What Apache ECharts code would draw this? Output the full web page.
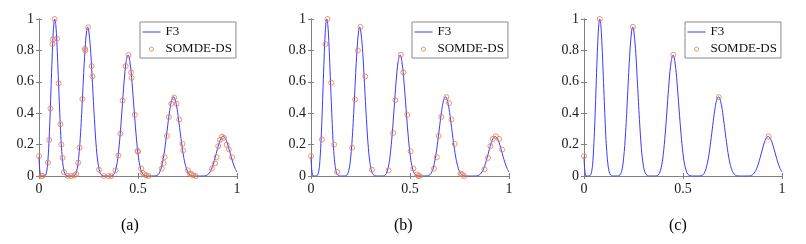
<!DOCTYPE html>
<html>
<head>
<meta charset="utf-8">
<script src="https://cdn.jsdelivr.net/npm/echarts@6/dist/echarts.min.js"></script>
<style>
html,body{margin:0;padding:0;background:#fff;}
#chart{width:806px;height:244px;}
</style>
</head>
<body>
<div id="chart"></div>
<script>
// F3 curve sample points
var curveX = [0,0.01,0.02,0.03,0.04,0.045,0.05,0.055,0.06,0.065,0.07,0.075,0.0797,0.085,0.09,0.095,0.1,0.105,0.11,0.115,0.12,0.125,0.13,0.14,0.15,0.16,0.17,0.18,0.19,0.2,0.21,0.22,0.23,0.24,0.2466,0.25,0.26,0.27,0.28,0.29,0.3,0.31,0.32,0.33,0.34,0.35,0.36,0.37,0.38,0.39,0.4,0.41,0.42,0.43,0.44,0.45,0.46,0.47,0.48,0.49,0.5,0.51,0.52,0.53,0.54,0.55,0.56,0.57,0.58,0.59,0.6,0.61,0.62,0.63,0.64,0.65,0.66,0.67,0.68,0.69,0.7,0.71,0.72,0.73,0.74,0.75,0.76,0.77,0.78,0.79,0.8,0.81,0.82,0.83,0.84,0.85,0.86,0.87,0.88,0.89,0.9,0.91,0.92,0.93,0.94,0.95,0.96,0.97,0.98,0.99,1];
var curveY = [0.1235,0.0005,0,0.0015,0.0382,0.0998,0.2047,0.3521,0.5285,0.7098,0.8648,0.9675,1,0.96,0.8583,0.7142,0.5526,0.3985,0.2598,0.1567,0.0836,0.0402,0.0161,0.0012,0,0,0.0001,0.0042,0.03,0.1115,0.2755,0.5095,0.7529,0.9172,0.9486,0.9378,0.8113,0.5906,0.3605,0.1745,0.0657,0.0171,0.0026,0.0001,0,0,0.0001,0.0023,0.0147,0.053,0.1344,0.266,0.4344,0.6033,0.7283,0.7706,0.7197,0.5936,0.4284,0.2688,0.1418,0.0618,0.0207,0.0048,0.0006,0,0,0,0.0001,0.0013,0.0072,0.025,0.0636,0.1285,0.2182,0.3207,0.4162,0.4826,0.5039,0.4751,0.4042,0.3101,0.2117,0.1272,0.0665,0.0287,0.0101,0.0024,0.0004,0,0,0,0,0.0003,0.0018,0.0069,0.019,0.041,0.0751,0.1189,0.1665,0.2104,0.2405,0.2517,0.2412,0.2123,0.1706,0.1255,0.0833,0.0485,0.025];

// SOMDE-DS points, panel (a)
var aX = [0,0.012,0.018,0.045,0.052,0.058,0.068,0.07,0.079,0.091,0.099,0.108,0.113,0.119,0.126,0.145,0.162,0.178,0.188,0.198,0.205,0.219,0.232,0.234,0.248,0.266,0.27,0.303,0.327,0.351,0.365,0.386,0.401,0.411,0.422,0.438,0.452,0.465,0.468,0.484,0.498,0.5,0.516,0.524,0.533,0.543,0.553,0.62,0.629,0.634,0.646,0.656,0.668,0.683,0.695,0.708,0.725,0.728,0.752,0.762,0.771,0.779,0.791,0.873,0.889,0.897,0.905,0.914,0.924,0.934,0.948,0.959,0.975];
var aY = [0.126,0,0,0.085,0.23,0.43,0.84,0.87,1,0.875,0.59,0.33,0.2,0.115,0.025,0,0,0.003,0.013,0.085,0.18,0.49,0.81,0.8,0.947,0.7,0.634,0.04,0,0,0,0.036,0.13,0.27,0.48,0.7,0.77,0.66,0.625,0.39,0.16,0.155,0.047,0.02,0.01,0.004,0,0.047,0.083,0.12,0.255,0.376,0.46,0.5,0.46,0.36,0.205,0.163,0.036,0.015,0.01,0.004,0,0.047,0.08,0.12,0.19,0.23,0.25,0.243,0.2,0.17,0.12];
// panel (b)
var bX = [0,0.055,0.073,0.083,0.102,0.117,0.132,0.208,0.223,0.237,0.25,0.274,0.308,0.392,0.415,0.426,0.454,0.466,0.486,0.503,0.517,0.535,0.542,0.549,0.621,0.635,0.645,0.658,0.684,0.697,0.709,0.726,0.756,0.764,0.774,0.876,0.894,0.906,0.918,0.933,0.95,0.965];
var bY = [0.126,0.232,0.84,1,0.594,0.2,0.026,0.18,0.487,0.8,0.95,0.634,0.04,0.036,0.274,0.483,0.772,0.66,0.39,0.157,0.047,0.01,0,0,0.047,0.12,0.255,0.376,0.502,0.464,0.36,0.204,0.015,0.01,0,0.043,0.115,0.19,0.236,0.253,0.236,0.168];
// panel (c)
var cX = [0,0.08,0.247,0.451,0.681,0.933];
var cY = [0.126,1,0.95,0.772,0.502,0.252];

var xTicks = [0, 0.5, 1];
var yTicks = [0, 0.2, 0.4, 0.6, 0.8, 1];
var captions = ['(a)', '(b)', '(c)'];
var seriesNames = ['F3', 'SOMDE-DS'];

function pairs(xs, ys) { return xs.map(function (x, i) { return [x, ys[i]]; }); }
var pointSets = [pairs(aX, aY), pairs(bX, bY), pairs(cX, cY)];
var curve = pairs(curveX, curveY);

var FONT = 'Liberation Serif';
var AXC = '#808080';
var LINEC = '#3a3aff';
var MARKC = '#ea7a45';
var gridLefts = [39, 311, 584];
var GW = 198, GT = 19, GH = 157;
var captionX = [132, 405, 680];

var grids = [], xAxes = [], yAxes = [], series = [], legends = [], graphics = [];
gridLefts.forEach(function (L, i) {
  grids.push({ left: L, top: GT, width: GW, height: GH, containLabel: false });
  var common = {
    type: 'value', gridIndex: i, min: 0, max: 1,
    splitLine: { show: false },
    axisLine: { show: true, lineStyle: { color: AXC, width: 1 } },
    axisTick: { show: true, inside: true, length: 3, lineStyle: { color: AXC } }
  };
  xAxes.push(Object.assign({}, common, {
    position: 'bottom', interval: xTicks[1] - xTicks[0],
    axisLabel: { show: true, margin: 6, color: '#1a1a1a', fontSize: 14, fontFamily: FONT }
  }));
  xAxes.push(Object.assign({}, common, {
    position: 'top', interval: xTicks[1] - xTicks[0], axisLabel: { show: false }
  }));
  yAxes.push(Object.assign({}, common, {
    position: 'left', interval: yTicks[1] - yTicks[0],
    axisLabel: { show: true, margin: 5, color: '#1a1a1a', fontSize: 14, fontFamily: FONT }
  }));
  yAxes.push(Object.assign({}, common, {
    position: 'right', interval: yTicks[1] - yTicks[0], axisLabel: { show: false }
  }));
  series.push({
    name: seriesNames[0], type: 'line', xAxisIndex: 2 * i, yAxisIndex: 2 * i,
    data: curve, showSymbol: false, symbol: 'none', smooth: 0.4,
    lineStyle: { color: LINEC, width: 1 }, itemStyle: { color: LINEC },
    animation: false, z: 2
  });
  series.push({
    name: seriesNames[1], type: 'scatter', xAxisIndex: 2 * i, yAxisIndex: 2 * i,
    data: pointSets[i], symbol: 'circle', symbolSize: 5,
    itemStyle: { color: 'rgba(0,0,0,0)', borderColor: MARKC, borderWidth: 1 },
    animation: false, z: 3
  });
  legends.push({
    left: L + 101, top: 22, orient: 'vertical',
    backgroundColor: '#fff', borderColor: '#8a8a8a', borderWidth: 1,
    padding: [2, 4, 1, 2], itemGap: 1, itemWidth: 18, itemHeight: 4,
    selectedMode: false,
    textStyle: { fontFamily: FONT, fontSize: 13, color: '#111', lineHeight: 16 },
    data: [
      { name: seriesNames[0], itemStyle: { color: 'rgba(0,0,0,0)', borderWidth: 0, opacity: 0 }, lineStyle: { color: LINEC, width: 1, opacity: 1 } },
      { name: seriesNames[1], icon: 'circle', itemStyle: { color: 'rgba(0,0,0,0)', borderColor: MARKC, borderWidth: 1 } }
    ]
  });
  graphics.push({
    type: 'text', left: captionX[i] - 11, top: 218,
    style: { text: captions[i], fontFamily: FONT, fontSize: 16, fill: '#000' }
  });
});

var chart = echarts.init(document.getElementById('chart'), null, { renderer: 'canvas' });
chart.setOption({
  animation: false,
  backgroundColor: '#fff',
  grid: grids, xAxis: xAxes, yAxis: yAxes, series: series,
  legend: legends, graphic: graphics
});
</script>
</body>
</html>
